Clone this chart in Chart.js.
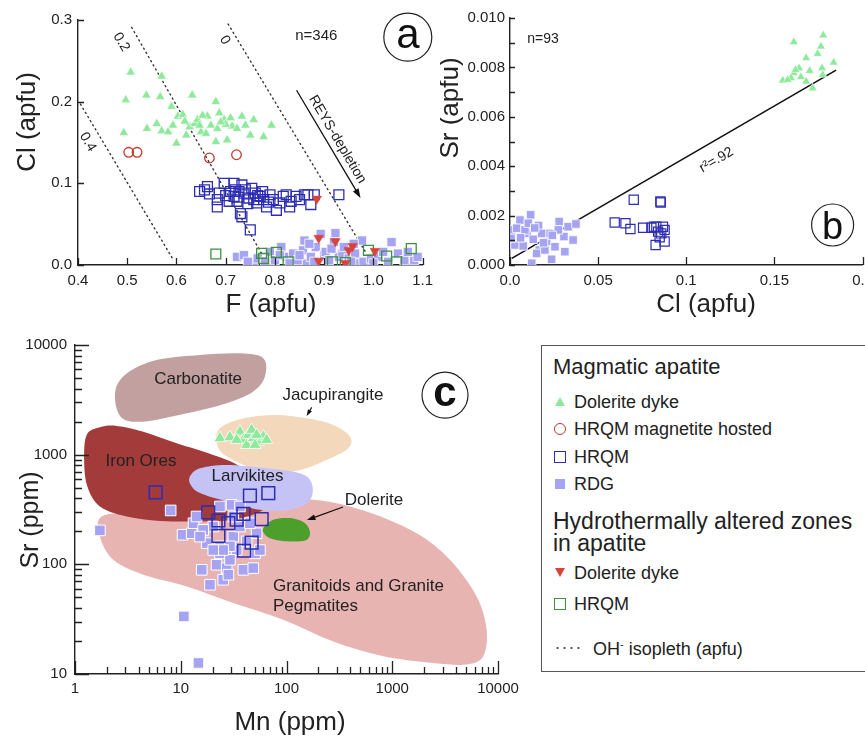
<!DOCTYPE html>
<html><head><meta charset="utf-8">
<script src="https://cdn.jsdelivr.net/npm/chart.js@4.4.0/dist/chart.umd.min.js"></script>
<style>
html,body{margin:0;padding:0;background:#fff;width:865px;height:738px;overflow:hidden;position:relative;font-family:"Liberation Sans",Arial,Helvetica,sans-serif;color:#222}
canvas{position:absolute}
#legend{position:absolute;left:541px;top:345px;width:340px;height:327px;border:1.3px solid #555;box-sizing:border-box}
.lg{position:absolute;white-space:nowrap;line-height:1;font-size:18px}
.it{left:32px}
.mk{position:absolute;box-sizing:border-box}
.tri{width:0;height:0;border-left:5px solid transparent;border-right:5px solid transparent;border-bottom:9px solid #8ee99b}
.dtri{width:0;height:0;border-left:5px solid transparent;border-right:5px solid transparent;border-top:9px solid #d8433b}
.circ{width:12px;height:12px;border:1.5px solid #c0392b;border-radius:50%}
.sq{width:12px;height:12px;border:1.5px solid #2d2db3}
.gsq{width:12px;height:12px;border:1.5px solid #3d9140}
.fsq{width:10px;height:10px;background:#a6a4f2}
.dots{width:28px;height:4px;background:radial-gradient(circle, #555 0.9px, transparent 1.3px) 0 0/7px 4px repeat-x}
</style></head>
<body>
<canvas id="ca" width="440" height="330" style="left:0;top:0"></canvas>
<canvas id="cb" width="440" height="330" style="left:440px;top:0"></canvas>
<canvas id="cc" width="540" height="418" style="left:0;top:320px"></canvas>
<div id="legend">
  <div class="lg" style="left:11px;top:10px;font-size:22px">Magmatic apatite</div>
  <span class="mk tri" style="left:13px;top:51px"></span><div class="lg it" style="top:47px">Dolerite dyke</div>
  <span class="mk circ" style="left:12px;top:77px"></span><div class="lg it" style="top:74px">HRQM magnetite hosted</div>
  <span class="mk sq" style="left:12px;top:105px"></span><div class="lg it" style="top:102px">HRQM</div>
  <span class="mk fsq" style="left:13px;top:133px"></span><div class="lg it" style="top:129px">RDG</div>
  <div class="lg" style="left:11px;top:164px;font-size:23px">Hydrothermally altered zones</div>
  <div class="lg" style="left:11px;top:186px;font-size:23px">in apatite</div>
  <span class="mk dtri" style="left:13px;top:222px"></span><div class="lg it" style="top:218px">Dolerite dyke</div>
  <span class="mk gsq" style="left:12px;top:252px"></span><div class="lg it" style="top:249px">HRQM</div>
  <span class="mk dots" style="left:12px;top:300px"></span><div class="lg" style="left:51px;top:293px">OH<sup style="font-size:11px">-</sup> isopleth (apfu)</div>
</div>
<script>
// ================= PANEL a : Cl vs F (apfu) =================
const aXTicks = [0.4, 0.5, 0.6, 0.7, 0.8, 0.9, 1.0, 1.1];
const aXTickLabels = ['0.4','0.5','0.6','0.7','0.8','0.9','1.0','1.1'];
const aYTicks = [0.0, 0.1, 0.2, 0.3];
const aYTickLabels = ['0.0','0.1','0.2','0.3'];
// magmatic, dolerite dyke (F, Cl)
const aDoleriteDyke = [[0.507,0.236],[0.570,0.231],[0.497,0.202],[0.539,0.208],[0.567,0.206],[0.632,0.208],[0.680,0.200],[0.590,0.194],[0.493,0.162],[0.540,0.167],[0.560,0.173],[0.570,0.164],[0.583,0.163],[0.593,0.171],[0.603,0.182],[0.613,0.184],[0.620,0.159],[0.627,0.169],[0.637,0.173],[0.643,0.178],[0.650,0.163],[0.660,0.161],[0.663,0.182],[0.670,0.171],[0.683,0.167],[0.687,0.186],[0.697,0.178],[0.703,0.153],[0.710,0.180],[0.713,0.170],[0.723,0.167],[0.733,0.182],[0.740,0.171],[0.750,0.159],[0.757,0.178],[0.777,0.157],[0.793,0.171],[0.600,0.149],[0.680,0.151],[0.647,0.171],[0.700,0.172],[0.690,0.175],[0.617,0.176],[0.653,0.183]];
const aMagnetiteHosted = [[0.503,0.138],[0.520,0.138],[0.667,0.131],[0.722,0.135]];
const aHRQM = [[0.647,0.090],[0.657,0.092],[0.663,0.096],[0.667,0.087],[0.683,0.080],[0.687,0.088],[0.683,0.071],[0.697,0.100],[0.717,0.100],[0.720,0.092],[0.717,0.084],[0.723,0.078],[0.733,0.098],[0.737,0.088],[0.730,0.063],[0.733,0.059],[0.740,0.092],[0.747,0.082],[0.753,0.094],[0.757,0.080],[0.760,0.088],[0.763,0.076],[0.770,0.084],[0.777,0.080],[0.783,0.071],[0.790,0.086],[0.797,0.080],[0.803,0.067],[0.810,0.076],[0.817,0.084],[0.823,0.086],[0.830,0.071],[0.833,0.078],[0.843,0.084],[0.850,0.080],[0.860,0.086],[0.867,0.086],[0.873,0.074],[0.880,0.086],[0.930,0.086],[0.750,0.043],[0.707,0.078],[0.710,0.090],[0.727,0.090],[0.765,0.085],[0.745,0.075],[0.775,0.090],[0.725,0.083],[0.700,0.085],[0.787,0.077]];
const aRDG = [[0.723,0.010],[0.737,0.012],[0.757,0.002],[0.765,0.008],[0.780,0.004],[0.790,0.016],[0.800,0.006],[0.813,0.022],[0.823,0.010],[0.830,0.002],[0.837,0.014],[0.847,0.006],[0.857,0.018],[0.860,0.030],[0.865,0.002],[0.873,0.010],[0.883,0.022],[0.893,0.038],[0.900,0.012],[0.903,0.016],[0.910,0.006],[0.920,0.028],[0.923,0.039],[0.930,0.010],[0.937,0.014],[0.950,0.008],[0.963,0.014],[0.970,0.002],[0.977,0.030],[0.980,0.004],[0.995,0.008],[1.010,0.010],[1.020,0.016],[1.037,0.028],[1.050,0.014],[1.063,0.006],[1.083,0.006],[1.090,0.010],[0.880,0.004],[0.940,0.022],[0.955,0.004],[1.000,0.002],[1.030,0.004],[0.810,0.012],[0.870,0.026],[0.915,0.020],[0.960,0.026],[1.070,0.016],[0.850,0.012],[0.745,0.004]];
// hydrothermally altered zones
const aAltDoleriteDyke = [[0.885,0.081],[0.889,0.033],[0.923,0.029],[0.958,0.023],[0.950,0.018],[0.889,0.005],[0.943,0.002],[1.003,0.017]];
const aAltHRQM = [[0.680,0.0135],[0.773,0.0143],[0.777,0.008],[0.803,0.0155],[0.827,0.004],[0.917,0.004],[0.943,0.003],[0.990,0.018],[1.027,0.011],[1.047,0.004],[1.077,0.020]];
// OH isopleths (end points, F & Cl)
const aIso0 = [[0.705,0.295],[0.985,0.015]];
const aIso02 = [[0.509,0.291],[0.775,0.012]];
const aIso04 = [[0.405,0.197],[0.594,0.006]];
const aIsoLabels = ['0', '0.2', '0.4'];

// ================= PANEL b : Sr vs Cl (apfu) =================
const bXTicks = [0, 0.05, 0.1, 0.15, 0.2];
const bXTickLabels = ['0.0','0.05','0.1','0.15','0.2'];
const bYTicks = [0,0.001,0.002,0.003,0.004,0.005,0.006,0.007,0.008,0.009,0.010];
const bYTickLabels = ['0.000','','0.002','','0.004','','0.006','','0.008','','0.010'];
const bDoleriteDyke = [[0.161,0.00903],[0.1777,0.0093],[0.1764,0.00885],[0.1745,0.00855],[0.168,0.00838],[0.1836,0.0082],[0.164,0.00797],[0.170,0.00786],[0.177,0.00797],[0.161,0.00777],[0.1547,0.00747],[0.1594,0.00757],[0.165,0.00761],[0.168,0.00743],[0.1717,0.00716],[0.1774,0.0077],[0.1575,0.0075],[0.162,0.0079]];
const bHRQM = [[0.0702,0.00264],[0.0853,0.00257],[0.0855,0.00253],[0.0594,0.00172],[0.0655,0.00169],[0.0683,0.00146],[0.0755,0.00151],[0.0802,0.00151],[0.083,0.00155],[0.0868,0.00155],[0.084,0.00135],[0.0877,0.00142],[0.0849,0.00112],[0.0826,0.00081],[0.0877,0.00095],[0.0858,0.00128],[0.0817,0.00155]];
const bRDG = [[0.001,0.00142],[0.0057,0.00182],[0.0117,0.00203],[0.0028,0.00081],[0.0075,0.00077],[0.0098,0.00128],[0.0132,0.00104],[0.0162,0.0016],[0.0166,0.00061],[0.0123,0.00007],[0.0208,0.00095],[0.0226,0.00128],[0.0255,0.00074],[0.0236,0.00023],[0.0279,0.00176],[0.0306,0.00115],[0.033,0.00155],[0.0358,0.00101],[0.0374,0.00166],[0.0311,0.00054],[0.0038,0.00149],[0.0085,0.00142],[0.0104,0.00169],[0.0179,0.00128],[0.0151,0.00047],[0.0274,0.00142],[0.0198,0.00061],[0.0006,0.00108],[0.006,0.0011],[0.014,0.0015],[0.019,0.0009],[0.024,0.0012]];
const bFitCl = [0.001, 0.185];
const bFitSr = [0.00027, 0.00789];

// ================= PANEL c : Sr vs Mn (ppm) =================
const cXDecades = [1, 10, 100, 1000, 10000];
const cXDecadeLabels = ['1','10','100','1000','10000'];
const cYDecades = [10, 100, 1000, 10000];
const cYDecadeLabels = ['10','100','1000','10000'];
const cMinorSteps = [2,3,4,5,6,7,8,9];
const cDoleriteDyke = [[23.5,1413],[29.2,1443],[36.3,1622],[39.1,1364],[43.6,1514],[42,1227],[48.5,1413],[54.1,1315],[60.4,1462],[64.9,1364],[46.8,1683],[52.2,1514],[33.8,1364],[50.4,1227]];
const cHRQM = [[5.79,452],[45.1,424],[67.3,446],[18.2,297],[22.7,251],[28.2,237],[33.8,255],[39.1,288],[58.2,258],[22.7,182],[46.8,158],[39.6,133]];
const cRDG = [[1.72,204],[8.03,310],[10.4,186],[10.7,33.5],[14.7,12.6],[12.7,192],[13.2,237],[14.1,273],[15.8,89.1],[18.9,65.1],[21.8,99.1],[23.5,337],[23.5,126],[25.2,72.3],[27.2,92.3],[28.2,80.4],[30.3,348],[31.4,179],[33.8,135],[36.3,221],[39.1,89.1],[42,162],[48.5,92.3],[50.4,126],[52.2,192],[56.1,135],[31.4,273],[20.3,221],[17.6,156],[16.3,206],[23.5,146],[29.2,146],[45.1,237],[29.2,110],[25.2,135],[20.3,135],[36.3,337],[15.2,179]];
// reference fields (outline vertices, Mn ppm, Sr ppm)
const cGranitoids = [[1.79,273],[4.12,303],[15.2,337],[64.9,374],[193,387],[572,303],[1700,192],[3513,110],[6280,50.9],[7800,25.3],[7260,14.5],[5050,12.2],[2440,12.6],[823,14.5],[277,19.8],[93.3,31.3],[31.4,44.4],[11.4,62.9],[4.43,80.4],[2.3,110],[1.72,179]];
const cJacupirangite = [[22.7,1683],[36.3,2104],[75,2304],[155,2148],[277,1867],[398,1462],[384,1146],[239,896],[134,726],[64.9,677],[31.4,896],[22.7,1146]];
const cIronOres = [[1.29,1514],[1.72,1778],[2.48,1828],[4.43,1622],[9.15,1270],[20.3,995],[36.3,779],[64.9,446],[60.4,314],[31.4,255],[15.2,246],[6.37,249],[3.08,273],[1.72,337],[1.31,512],[1.22,895]];
const cLarvikites = [[12.2,631],[15.2,752],[27.2,807],[64.9,752],[134,677],[173,549],[167,387],[108,314],[56.1,314],[27.2,374],[15.2,446],[12.4,531]];
const cDoleriteField = [[60.4,214],[75,255],[108,264],[150,237],[167,192],[150,165],[100,162],[69.8,173],[61.2,192]];
const cCarbonatite = [[2.4,3760],[3.1,5520],[5.9,7290],[15.2,8110],[36.3,8390],[60.4,7570],[62.5,5150],[48.5,3760],[27.2,2940],[11.4,2380],[4.4,2000],[2.7,2220]];

// ================= helpers =================
const FONT = '"Liberation Sans", Arial, Helvetica, sans-serif';
Chart.defaults.font.family = FONT;
Chart.defaults.color = '#222';
const pts = arr => arr.map(p => ({x: p[0], y: p[1]}));
const INK = '#222';

function text(ctx, str, x, y, o) {
  o = Object.assign({size: 15, align: 'center', base: 'middle', rot: 0, weight: 'normal', color: INK}, o || {});
  ctx.save(); ctx.translate(x, y); ctx.rotate(o.rot * Math.PI / 180);
  ctx.font = o.weight + ' ' + o.size + 'px ' + FONT; ctx.fillStyle = o.color;
  ctx.textAlign = o.align; ctx.textBaseline = o.base; ctx.fillText(str, 0, 0); ctx.restore();
}
function arrow(ctx, x1, y1, x2, y2, head, w) {
  const ang = Math.atan2(y2 - y1, x2 - x1);
  ctx.save(); ctx.strokeStyle = '#111'; ctx.fillStyle = '#111'; ctx.lineWidth = w;
  ctx.beginPath(); ctx.moveTo(x1, y1); ctx.lineTo(x2 - Math.cos(ang) * head * 0.8, y2 - Math.sin(ang) * head * 0.8); ctx.stroke();
  ctx.beginPath(); ctx.moveTo(x2, y2);
  ctx.lineTo(x2 - head * Math.cos(ang - 0.33), y2 - head * Math.sin(ang - 0.33));
  ctx.lineTo(x2 - head * Math.cos(ang + 0.33), y2 - head * Math.sin(ang + 0.33));
  ctx.closePath(); ctx.fill(); ctx.restore();
}
function circLabel(ctx, str, x, y, r, size, lift, weight) {
  ctx.save(); ctx.beginPath(); ctx.arc(x, y, r, 0, Math.PI * 2);
  ctx.fillStyle = '#fff'; ctx.fill(); ctx.lineWidth = 1.2; ctx.strokeStyle = INK; ctx.stroke(); ctx.restore();
  text(ctx, str, x, y + lift * size, {size: size, base: 'alphabetic', weight: weight || 'normal', color: '#111'});
}
function inTicks(len) {
  return { id: 'inTicks', afterDraw(chart) {
    const {ctx, chartArea: a} = chart, xs = chart.scales.x, ys = chart.scales.y;
    ctx.save(); ctx.strokeStyle = INK; ctx.lineWidth = 1.3; ctx.beginPath();
    xs.ticks.forEach(t => { const L = (t.label !== '' ? len.xMaj : len.xMin); if (!L) return;
      if (t.value < xs.min || t.value > xs.max) return;
      const p = Math.round(xs.getPixelForValue(t.value)) + 0.5; ctx.moveTo(p, a.bottom); ctx.lineTo(p, a.bottom - L); });
    ys.ticks.forEach(t => { const L = (t.label !== '' ? len.yMaj : len.yMin); if (!L) return;
      if (t.value < ys.min || t.value > ys.max) return;
      const p = Math.round(ys.getPixelForValue(t.value)) + 0.5; ctx.moveTo(a.left, p); ctx.lineTo(a.left + L, p); });
    ctx.stroke(); ctx.restore();
  }};
}
function axisOpts(ticks, labels, fitKey, fitVal, pad, extra) {
  return Object.assign({
    grid: {display: false, drawTicks: false},
    border: {display: true, color: INK, width: 1.4},
    afterBuildTicks: s => { s.ticks = ticks.map(v => ({value: v})); },
    ticks: {autoSkip: false, maxRotation: 0, padding: pad, font: {size: 15}, color: INK,
      callback: v => { const i = ticks.indexOf(v); return i < 0 ? '' : labels[i]; }},
    afterFit: s => { s[fitKey] = fitVal; }
  }, extra || {});
}
function sc(chart, x, y) { return [chart.scales.x.getPixelForValue(x), chart.scales.y.getPixelForValue(y)]; }

const GREEN = '#8ee99b', PURPLE = '#a6a4f2', BLUE = '#2d2db3', RED = '#c0392b', RED2 = '#d8433b', DGREEN = '#3d9140';
const commonOpts = (padding) => ({
  responsive: false, animation: false, events: [],
  layout: {padding: padding},
  plugins: {legend: {display: false}, tooltip: {enabled: false}}
});

// ---------------- chart a ----------------
const annotA = { id: 'annotA', afterDraw(chart) {
  const ctx = chart.ctx;
  let p = sc(chart, 0.884, 0.2804); text(ctx, 'n=346', p[0], p[1], {size: 15});
  const s = sc(chart, 0.844, 0.214), e = sc(chart, 0.974, 0.082);
  arrow(ctx, s[0], s[1], e[0], e[1], 10, 1.3);
  const ang = Math.atan2(e[1] - s[1], e[0] - s[0]) * 180 / Math.PI;
  p = sc(chart, 0.927, 0.1537); text(ctx, 'REYS-depletion', p[0], p[1], {size: 14, rot: ang});
  const isoPos = [[0.698, 0.2755], [0.488, 0.273], [0.42, 0.1506]];
  aIsoLabels.forEach((l, i) => { const q = sc(chart, isoPos[i][0], isoPos[i][1]); text(ctx, l, q[0], q[1], {size: 14, rot: ang}); });
  p = sc(chart, 1.07, 0.279); circLabel(ctx, 'a', p[0], p[1], 24, 42, 0.27);
  text(ctx, 'F (apfu)', 271, 312, {size: 26, base: 'alphabetic'});
  text(ctx, 'Cl (apfu)', 35, 122, {size: 26, base: 'alphabetic', rot: -90});
}};
const isoStyle = {type: 'line', showLine: true, pointRadius: 0, borderColor: '#333', borderWidth: 1.4, borderDash: [1.2, 3.6], borderCapStyle: 'round', fill: false};
new Chart(document.getElementById('ca'), {
  type: 'scatter',
  data: {datasets: [
    {label: 'Altered dolerite dyke', data: pts(aAltDoleriteDyke), pointStyle: 'triangle', rotation: 180, pointRadius: 5.5, backgroundColor: RED2, borderColor: RED2, borderWidth: 0.5},
    {label: 'Altered HRQM', data: pts(aAltHRQM), pointStyle: 'rect', pointRadius: 7, backgroundColor: 'rgba(0,0,0,0)', borderColor: DGREEN, borderWidth: 1.3},
    {label: 'HRQM', data: pts(aHRQM), pointStyle: 'rect', pointRadius: 7, backgroundColor: 'rgba(0,0,0,0)', borderColor: BLUE, borderWidth: 1.3},
    {label: 'RDG', data: pts(aRDG), pointStyle: 'rect', pointRadius: 6.5, backgroundColor: PURPLE, borderColor: '#fff', borderWidth: 0.8},
    {label: 'HRQM magnetite hosted', data: pts(aMagnetiteHosted), pointStyle: 'circle', pointRadius: 4.8, backgroundColor: 'rgba(0,0,0,0)', borderColor: RED, borderWidth: 1.3},
    {label: 'Dolerite dyke', data: pts(aDoleriteDyke), pointStyle: 'triangle', pointRadius: 5.5, backgroundColor: GREEN, borderColor: '#fff', borderWidth: 0.6},
    Object.assign({label: 'OH 0', data: pts(aIso0)}, isoStyle),
    Object.assign({label: 'OH 0.2', data: pts(aIso02)}, isoStyle),
    Object.assign({label: 'OH 0.4', data: pts(aIso04)}, isoStyle)
  ]},
  options: Object.assign(commonOpts({left: 0, right: 12, top: 20, bottom: 0}), {
    scales: {
      x: axisOpts(aXTicks, aXTickLabels, 'height', 65, 7, {type: 'linear', min: 0.4, max: 1.1}),
      y: axisOpts(aYTicks, aYTickLabels, 'width', 78, 6, {type: 'linear', min: 0, max: 0.3})
    }
  }),
  plugins: [inTicks({xMaj: 7, xMin: 0, yMaj: 6, yMin: 0}), annotA]
});

// ---------------- chart b ----------------
const annotB = { id: 'annotB', afterDraw(chart) {
  const ctx = chart.ctx;
  let p = sc(chart, 0.0187, 0.00915); text(ctx, 'n=93', p[0], p[1], {size: 14});
  const s = sc(chart, bFitCl[0], bFitSr[0]), e = sc(chart, bFitCl[1], bFitSr[1]);
  const ang = Math.atan2(e[1] - s[1], e[0] - s[0]) * 180 / Math.PI;
  p = sc(chart, 0.1171, 0.00425); text(ctx, 'r²=.92', p[0], p[1], {size: 14, rot: ang});
  p = sc(chart, 0.183, 0.00162); circLabel(ctx, 'b', p[0], p[1], 21, 38, 0.36);
  text(ctx, 'Cl (apfu)', 266, 312, {size: 26, base: 'alphabetic'});
  text(ctx, 'Sr (apfu)', 18, 108, {size: 26, base: 'alphabetic', rot: -90});
}};
new Chart(document.getElementById('cb'), {
  type: 'scatter',
  data: {datasets: [
    {label: 'HRQM', data: pts(bHRQM), pointStyle: 'rect', pointRadius: 6.5, backgroundColor: 'rgba(0,0,0,0)', borderColor: BLUE, borderWidth: 1.2},
    {label: 'RDG', data: pts(bRDG), pointStyle: 'rect', pointRadius: 6, backgroundColor: PURPLE, borderColor: '#fff', borderWidth: 0.8},
    {label: 'Dolerite dyke', data: pts(bDoleriteDyke), pointStyle: 'triangle', pointRadius: 5, backgroundColor: GREEN, borderColor: '#fff', borderWidth: 0.5},
    {label: 'Regression', type: 'line', showLine: true, data: bFitCl.map((x, i) => ({x: x, y: bFitSr[i]})), pointRadius: 0, borderColor: '#111', borderWidth: 1.6, fill: false}
  ]},
  options: Object.assign(commonOpts({left: 0, right: 17, top: 18, bottom: 0}), {
    scales: {
      x: axisOpts(bXTicks, bXTickLabels, 'height', 65, 7, {type: 'linear', min: 0, max: 0.2}),
      y: axisOpts(bYTicks, bYTickLabels, 'width', 70, 5, {type: 'linear', min: 0, max: 0.010})
    }
  }),
  plugins: [inTicks({xMaj: 8, xMin: 0, yMaj: 5, yMin: 5}), annotB]
});

// ---------------- chart c ----------------
function logTicks(decades) {
  const out = [];
  decades.forEach((d, i) => { out.push(d); if (i < decades.length - 1) cMinorSteps.forEach(m => out.push(d * m)); });
  return out;
}
const cXTicks = logTicks(cXDecades);
const cXTickLabels = cXTicks.map(v => { const i = cXDecades.indexOf(v); return i < 0 ? '' : cXDecadeLabels[i]; });
const cYTicks = logTicks(cYDecades);
const cYTickLabels = cYTicks.map(v => { const i = cYDecades.indexOf(v); return i < 0 ? '' : cYDecadeLabels[i]; });
const cFields = [
  {data: cGranitoids, color: '#e8b4b2'},
  {data: cJacupirangite, color: '#f4d8bb'},
  {data: cIronOres, color: '#a23b3a'},
  {data: cLarvikites, color: '#c5c3f5'},
  {data: cDoleriteField, color: '#4c9f2b'},
  {data: cCarbonatite, color: '#c2a09f'}
];
function blob(ctx, P) {
  const n = P.length; ctx.beginPath(); ctx.moveTo(P[0][0], P[0][1]);
  for (let i = 0; i < n; i++) {
    const p0 = P[(i - 1 + n) % n], p1 = P[i], p2 = P[(i + 1) % n], p3 = P[(i + 2) % n];
    ctx.bezierCurveTo(p1[0] + (p2[0] - p0[0]) / 6, p1[1] + (p2[1] - p0[1]) / 6,
                      p2[0] - (p3[0] - p1[0]) / 6, p2[1] - (p3[1] - p1[1]) / 6, p2[0], p2[1]);
  }
  ctx.closePath(); ctx.fill();
}
const fieldsC = { id: 'fieldsC', beforeDatasetsDraw(chart) {
  const ctx = chart.ctx; ctx.save();
  cFields.forEach(f => { ctx.fillStyle = f.color; blob(ctx, f.data.map(p => sc(chart, p[0], p[1]))); });
  ctx.restore();
  const L = (s, x, y, o) => { const p = sc(chart, x, y); text(ctx, s, p[0], p[1], Object.assign({size: 17}, o || {})); };
  L('Carbonatite', 14.6, 4890);
  L('Jacupirangite', 275, 3493);
  L('Iron Ores', 4.21, 861);
  L('Larvikites', 42.8, 629);
  L('Dolerite', 672, 386);
  L('Granitoids and Granite', 74.5, 62.5, {align: 'left'});
  L('Pegmatites', 74.5, 41.0, {align: 'left'});
}, afterDraw(chart) {
  const ctx = chart.ctx;
  let s = sc(chart, 342, 333), e = sc(chart, 156, 253); arrow(ctx, s[0], s[1], e[0], e[1], 9, 1.2);
  s = sc(chart, 173, 2698); e = sc(chart, 155, 2249); arrow(ctx, s[0], s[1], e[0], e[1], 7, 1.2);
  const p = sc(chart, 3155, 3493); circLabel(ctx, 'c', p[0], p[1], 23, 42, 0.27, 'bold');
  text(ctx, 'Mn (ppm)', 290, 410, {size: 26, base: 'alphabetic'});
  text(ctx, 'Sr (ppm)', 38, 200, {size: 25, base: 'alphabetic', rot: -90});
}};
new Chart(document.getElementById('cc'), {
  type: 'scatter',
  data: {datasets: [
    {label: 'HRQM', data: pts(cHRQM), pointStyle: 'rect', pointRadius: 9, backgroundColor: 'rgba(0,0,0,0)', borderColor: BLUE, borderWidth: 1.5},
    {label: 'RDG', data: pts(cRDG), pointStyle: 'rect', pointRadius: 7.5, backgroundColor: PURPLE, borderColor: '#fff', borderWidth: 1},
    {label: 'Dolerite dyke', data: pts(cDoleriteDyke), pointStyle: 'triangle', pointRadius: 7, backgroundColor: GREEN, borderColor: '#fff', borderWidth: 0.8}
  ]},
  options: Object.assign(commonOpts({left: 0, right: 42, top: 25, bottom: 0}), {
    scales: {
      x: axisOpts(cXTicks, cXTickLabels, 'height', 64, 6, {type: 'logarithmic', min: 1, max: 10000}),
      y: axisOpts(cYTicks, cYTickLabels, 'width', 75, 8, {type: 'logarithmic', min: 10, max: 10000})
    }
  }),
  plugins: [fieldsC, inTicks({xMaj: 13, xMin: 7, yMaj: 14, yMin: 7})]
});
</script>
</body></html>
